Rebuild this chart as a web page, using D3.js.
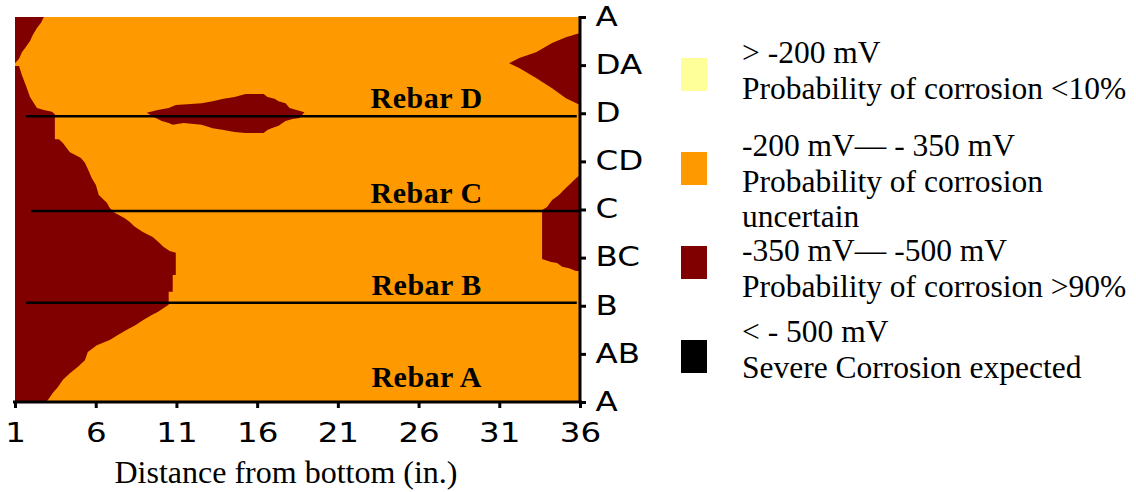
<!DOCTYPE html>
<html lang="en">

<head>
    <meta charset="UTF-8">
    <title>Half-cell potential map</title>
    <style>
        body { margin: 0; background: #fff; }
        svg { display: block; }
        .serif { font-family: "Liberation Serif", "Times New Roman", serif; }
        .tick text { font-family: "DejaVu Sans", sans-serif; font-size: 26px; fill: #000; }
    </style>
</head>

<script src="https://cdn.jsdelivr.net/npm/d3@7"></script>

<body>
    <div id="graphic"></div>
    <script>
        // x: distance from bottom (in.), y: position round the section, 0 = A ... 8 = A again
        var xTicks = [1, 6, 11, 16, 21, 26, 31, 36];
        var yLabels = ['A', 'AB', 'B', 'BC', 'C', 'CD', 'D', 'DA', 'A'];

        // areas in the -350 .. -500 mV band, outlines
        var topLeftZone = [[1, 8], [2.79, 8], [2.61, 7.88], [2.36, 7.77], [2.11, 7.63], [1.93, 7.5],
            [1.68, 7.38], [1.43, 7.27], [1.25, 7.13], [1, 7.04]];
        var leftZone = [[1, 6.98], [1.25, 6.98], [1.43, 6.79], [1.68, 6.57], [1.93, 6.34], [2.36, 6.11],
            [2.79, 6.07], [3.29, 6.03], [3.47, 5.98], [3.47, 5.46], [3.72, 5.46], [3.97, 5.38], [4.15, 5.3],
            [4.4, 5.19], [4.65, 5.15], [5.08, 5.07], [5.33, 4.97], [5.51, 4.84], [5.76, 4.65], [6.01, 4.51],
            [6.19, 4.3], [6.69, 4.14], [6.87, 4.03], [7.18, 3.93], [7.8, 3.82], [8.11, 3.74], [8.42, 3.64],
            [8.92, 3.53], [9.53, 3.43], [9.9, 3.32], [10.21, 3.22], [10.58, 3.14], [10.96, 3.1], [10.96, 2.64],
            [10.77, 2.64], [10.77, 2.29], [10.52, 2.29], [10.52, 2.02], [10.28, 1.97], [9.84, 1.87],
            [9.47, 1.81], [8.92, 1.7], [8.48, 1.6], [7.93, 1.5], [7.37, 1.39], [6.87, 1.29], [6.07, 1.18],
            [5.51, 1.04], [5.33, 0.87], [4.9, 0.73], [4.4, 0.6], [3.97, 0.46], [3.66, 0.31], [3.35, 0.19],
            [3.04, 0.04], [2.9, 0], [1, 0]];
        var rebarDZone = [[9.16, 6.01], [9.84, 6.07], [10.52, 6.11], [10.96, 6.17], [12.56, 6.21],
            [13.24, 6.25], [13.92, 6.3], [14.6, 6.34], [15.28, 6.4], [16.4, 6.4], [16.64, 6.34], [17.08, 6.3],
            [17.33, 6.25], [17.76, 6.21], [18.01, 6.11], [18.44, 6.07], [18.93, 6.02], [18.62, 5.9],
            [18.19, 5.88], [17.76, 5.84], [17.57, 5.8], [17.33, 5.74], [16.89, 5.69], [16.64, 5.65],
            [16.4, 5.59], [15.28, 5.59], [14.6, 5.61], [13.92, 5.65], [13.24, 5.69], [12.56, 5.76],
            [11.45, 5.8], [10.77, 5.76], [10.52, 5.8], [10.09, 5.84], [9.6, 5.92]];
        var topRightZone = [[31.61, 7.04], [32.23, 7.15], [33.28, 7.27], [34.27, 7.46], [35.13, 7.58],
            [36, 7.67], [36, 6.17], [35.13, 6.31], [34.27, 6.52], [33.28, 6.73], [32.23, 6.94]];
        var rightZone = [[36, 4.72], [35.75, 4.65], [35.32, 4.51], [35.01, 4.41], [34.7, 4.3], [34.27, 4.2],
            [33.96, 4.05], [33.65, 3.99], [33.65, 2.97], [34.21, 2.91], [34.58, 2.89], [34.89, 2.81],
            [35.32, 2.78], [35.75, 2.72], [36, 2.72]];
        var darkZones = [topLeftZone, leftZone, rebarDZone, topRightZone, rightZone];

        var rebarNames = ['Rebar A', 'Rebar B', 'Rebar C', 'Rebar D'];
        var rebarY = [0.14, 2.06, 3.97, 5.94];
        var rebarStart = [1.68, 1.68, 1.99, 1.68];
        var rebarEnd = [35.8, 35.8, 36, 35.8];
        var rebarShown = [false, true, true, true];

        var legendColors = ['#FFFF99', '#FF9900', '#800000', '#000000'];
        var legendText = [
            ['> -200 mV', 'Probability of corrosion <10%'],
            ['-200 mV\u2014 - 350 mV', 'Probability of corrosion', 'uncertain'],
            ['-350 mV\u2014 -500 mV', 'Probability of corrosion >90%'],
            ['< - 500 mV', 'Severe Corrosion expected']
        ];

        var width = 1136;
        var height = 492;
        var plotLeft = 15, plotRight = 580, plotTop = 17, plotBottom = 402;

        var x = d3.scaleLinear().domain([1, 36]).range([plotLeft, plotRight]);
        var y = d3.scaleLinear().domain([0, 8]).range([plotBottom, plotTop]);

        var svg = d3.select('#graphic')
            .append('svg')
            .attr('width', width)
            .attr('height', height);

        // background band (-200 .. -350 mV)
        svg.append('rect')
            .attr('x', x(1))
            .attr('y', y(8))
            .attr('width', x(36) - x(1))
            .attr('height', y(0) - y(8))
            .attr('fill', legendColors[1]);

        var line = d3.line()
            .x(function (d) { return x(d[0]) })
            .y(function (d) { return y(d[1]) });

        svg.selectAll('.zone')
            .data(darkZones)
            .join('path')
            .attr('class', 'zone')
            .attr('d', function (d) { return line(d) + 'Z' })
            .attr('fill', legendColors[2]);

        // rebars
        var shown = d3.range(rebarY.length).filter(function (i) { return rebarShown[i] });
        svg.selectAll('.rebar')
            .data(shown)
            .join('line')
            .attr('class', 'rebar')
            .attr('x1', function (i) { return x(rebarStart[i]) })
            .attr('x2', function (i) { return x(rebarEnd[i]) })
            .attr('y1', function (i) { return y(rebarY[i]) })
            .attr('y2', function (i) { return y(rebarY[i]) })
            .attr('stroke', '#000')
            .attr('stroke-width', 2.5);

        svg.selectAll('.rebar-label')
            .data(rebarNames)
            .join('text')
            .attr('class', 'rebar-label serif')
            .attr('x', x(26.5))
            .attr('y', function (d, i) { return y(rebarY[i]) - 8 })
            .attr('text-anchor', 'middle')
            .attr('font-weight', 'bold')
            .attr('font-size', 30)
            .attr('letter-spacing', 0.5)
            .text(function (d) { return d });

        // axes
        var xAxis = svg.append('g')
            .attr('transform', 'translate(0,' + plotBottom + ')')
            .call(d3.axisBottom(x).tickValues(xTicks).tickSize(6).tickSizeOuter(0).tickPadding(12));
        xAxis.select('.domain').attr('stroke-width', 3).attr('d', 'M' + (plotLeft - 2) + ',0H' + (plotRight + 2));
        xAxis.selectAll('.tick line').attr('stroke-width', 3);
        xAxis.selectAll('.tick text')
            .attr('dy', '0.85em')
            .attr('transform', 'scale(1.25,1)');

        var yAxis = svg.append('g')
            .attr('transform', 'translate(' + plotRight + ',0)')
            .call(d3.axisRight(y).tickValues(d3.range(9)).tickFormat(function (d) { return yLabels[d] })
                .tickSize(6).tickSizeOuter(0));
        yAxis.select('.domain').attr('stroke-width', 3).attr('d', 'M0,' + (plotTop - 1) + 'V' + (plotBottom + 1));
        yAxis.selectAll('.tick line').attr('stroke-width', 3);
        yAxis.selectAll('.tick text')
            .attr('x', 12.5)
            .attr('transform', 'scale(1.25,1)');

        svg.append('text')
            .attr('class', 'serif')
            .attr('x', 286)
            .attr('y', 483)
            .attr('text-anchor', 'middle')
            .attr('font-size', 32)
            .text('Distance from bottom (in.)');

        // legend
        var textTop = [63, 156, 261, 342];
        var legend = svg.selectAll('.legend')
            .data(legendColors)
            .join('g')
            .attr('class', 'legend');

        legend.append('rect')
            .attr('x', 681)
            .attr('y', function (d, i) { return 58 + i * 94 })
            .attr('width', 26)
            .attr('height', 33)
            .attr('fill', function (d) { return d });

        legend.append('text')
            .attr('class', 'serif')
            .attr('font-size', 31.5)
            .attr('y', function (d, i) { return textTop[i] })
            .selectAll('tspan')
            .data(function (d, i) { return legendText[i] })
            .join('tspan')
            .attr('x', 742)
            .attr('dy', function (d, i) { return i === 0 ? 0 : 35.5 })
            .text(function (d) { return d });
    </script>
</body>

</html>
